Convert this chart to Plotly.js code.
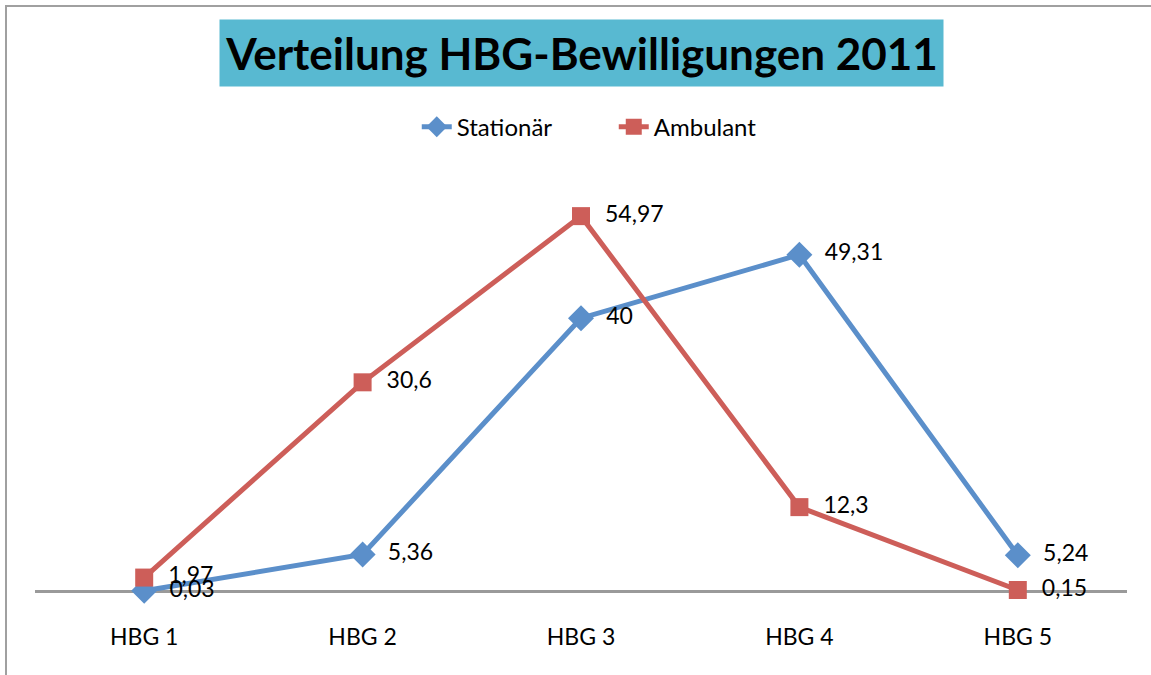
<!DOCTYPE html>
<html>
<head>
<meta charset="utf-8">
<script src="https://cdn.plot.ly/plotly-3.0.1.min.js"></script>
<style>
html,body{margin:0;padding:0;background:#fff;}
#wrap{position:relative;width:1151px;height:675px;}
#frame{position:absolute;left:5px;top:5px;width:1160px;height:700px;border-left:2px solid #a0a0a0;border-top:2px solid #a0a0a0;pointer-events:none;}
#chart{position:absolute;left:0;top:0;width:1151px;height:675px;}
</style>
</head>
<body>
<div id="wrap"><div id="chart"></div><div id="frame"></div></div>
<script>
const categories = ['HBG 1', 'HBG 2', 'HBG 3', 'HBG 4', 'HBG 5'];
const stationaer = [0.03, 5.36, 40, 49.31, 5.24];
const ambulant = [1.97, 30.6, 54.97, 12.3, 0.15];
const titleText = 'Verteilung HBG-Bewilligungen 2011';

const fmt = v => '  ' + String(v).replace('.', ',');
const FONT = 'Lato, "Open Sans", sans-serif';

const traces = [
  {
    x: categories, y: stationaer, name: 'Stationär', type: 'scatter', mode: 'lines+markers+text',
    line: {color: '#5B8FCA', width: 5},
    marker: {symbol: 'diamond', size: 20, color: '#5B8FCA'},
    text: stationaer.map(fmt), textposition: 'middle right',
    textfont: {family: FONT, size: 23, color: '#000'}, cliponaxis: false
  },
  {
    x: categories, y: ambulant, name: 'Ambulant', type: 'scatter', mode: 'lines+markers+text',
    line: {color: '#CD5E59', width: 5},
    marker: {symbol: 'square', size: 18, color: '#CD5E59'},
    text: ambulant.map(fmt), textposition: 'middle right',
    textfont: {family: FONT, size: 23, color: '#000'}, cliponaxis: false
  }
];

const layout = {
  width: 1151, height: 675,
  margin: {l: 35, r: 24, t: 160, b: 84},
  paper_bgcolor: '#fff', plot_bgcolor: '#fff',
  separators: ',.',
  font: {family: FONT, color: '#000'},
  showlegend: true,
  legend: {orientation: 'h', x: 0.53, xanchor: 'center', y: 0.845, yref: 'container', yanchor: 'top',
           entrywidth: 152, font: {family: FONT, size: 24, color: '#000'}},
  xaxis: {
    type: 'category', range: [-0.5, 4.5], showgrid: false, zeroline: false,
    showline: false, ticks: '', tickfont: {family: FONT, size: 23, color: '#000'}, ticklabelstandoff: 30
  },
  yaxis: {
    range: [0, 63.2], showgrid: false, zeroline: true, zerolinecolor: '#9a9a9a', zerolinewidth: 3,
    showticklabels: false, showline: false, ticks: ''
  },
  annotations: [{
    text: '<b>' + titleText + '</b>', xref: 'paper', yref: 'paper',
    x: 0.5, y: 1, yshift: 73, showarrow: false,
    font: {family: FONT, size: 44, color: '#000'},
    bgcolor: '#58B9D1', width: 715, height: 58, borderpad: 4,
    xanchor: 'center', yanchor: 'bottom'
  }]
};

Plotly.newPlot('chart', traces, layout, {displayModeBar: false, staticPlot: true});
</script>
</body>
</html>
